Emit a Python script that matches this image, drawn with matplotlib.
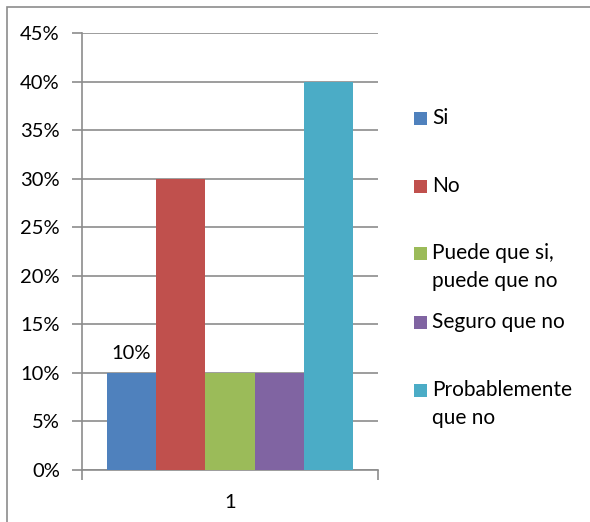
import matplotlib
matplotlib.use("Agg")
import matplotlib.pyplot as plt
from matplotlib.patches import Rectangle
import numpy as np

categories = ["1"]
series = ["Si", "No", "Puede que si,\npuede que no", "Seguro que no", "Probablemente\nque no"]
values = [0.10, 0.30, 0.10, 0.10, 0.40]
colors = ["#4f81bd", "#c0504d", "#9bbb59", "#8064a2", "#4bacc6"]
yticks = [0.0, 0.05, 0.10, 0.15, 0.20, 0.25, 0.30, 0.35, 0.40, 0.45]
ytick_labels = ["0%", "5%", "10%", "15%", "20%", "25%", "30%", "35%", "40%", "45%"]

W, H = 590, 522
FS = 14.5
LEG_FS = 15
plt.rcParams["font.family"] = ["Lato", "DejaVu Sans"]
fig = plt.figure(figsize=(W / 100, H / 100), dpi=100)

# chart-area frame, running off the right and bottom edges
fig.patches.append(Rectangle((7 / W, -0.05), 1.2, 1 - 7 / H + 0.05,
                             transform=fig.transFigure, fill=False,
                             edgecolor="#8c8c8c", linewidth=1.2))

ax = fig.add_axes([82 / W, (H - 470) / H, 296 / W, 437 / H])
grid_col = "#8c8c8c"

bw = 1 / 6
n = len(series)
for i, (name, v, c) in enumerate(zip(series, values, colors)):
    x = 0.5 + (i - (n - 1) / 2) * bw
    ax.bar(x, v, width=bw, color=c, zorder=3)
    if i == 0:
        ax.text(x, v + 0.011, f"{v:.0%}", ha="center", va="bottom", fontsize=FS)

ax.set_xlim(0, 1)
ax.set_ylim(0, 0.45)
ax.set_yticks(yticks)
ax.set_yticklabels(ytick_labels, fontsize=FS)
ax.set_xticks([0.5])
ax.set_xticklabels(categories, fontsize=FS)
ax.xaxis.set_minor_locator(matplotlib.ticker.FixedLocator([0, 1]))
ax.tick_params(axis="x", which="major", length=0, pad=17)
ax.tick_params(axis="x", which="minor", length=7, color=grid_col, width=1.2)
ax.tick_params(axis="y", length=7, color=grid_col, width=1.2, pad=9)
ax.grid(axis="y", color=grid_col, linewidth=1.2, zorder=0)
for s in ["top", "right"]:
    ax.spines[s].set_visible(False)
for s in ["left", "bottom"]:
    ax.spines[s].set_color(grid_col)
    ax.spines[s].set_linewidth(1.2)

# legend entries: swatch plus one text line per label row
leg_y = [118, 186, 253, 322, 390]
line_step = 28
for name, c, y in zip(series, colors, leg_y):
    fig.patches.append(Rectangle((414 / W, (H - y - 6.5) / H), 13 / W, 13 / H,
                                 transform=fig.transFigure, facecolor=c, edgecolor="none"))
    for k, line in enumerate(name.split("\n")):
        fig.text(432 / W, (H - y - k * line_step) / H, line, fontsize=LEG_FS,
                 va="center", ha="left")

fig.savefig("out.png", dpi=100)
